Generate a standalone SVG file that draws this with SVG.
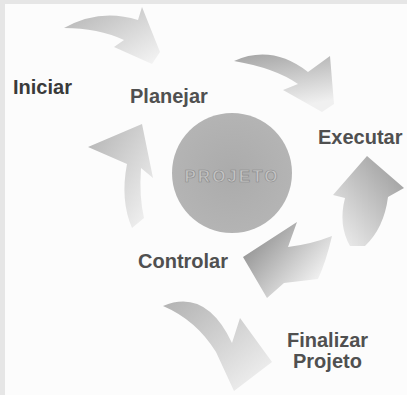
<svg xmlns="http://www.w3.org/2000/svg" width="407" height="395" viewBox="0 0 407 395">
<style>
.lbl{font-family:"Liberation Sans",Arial,sans-serif;font-weight:bold;font-size:20px;fill:#505050}
.arr{stroke:none}
</style>
<defs>
<linearGradient id="g1" x1="0" y1="0" x2="1" y2="1"><stop offset="0" stop-color="#b2b2b2"/><stop offset="1" stop-color="#f6f6f6"/></linearGradient>
<linearGradient id="g2" x1="0" y1="0" x2="0.3" y2="1"><stop offset="0" stop-color="#a4a4a4"/><stop offset="1" stop-color="#f0f0f0"/></linearGradient>
<linearGradient id="g3" x1="1" y1="0" x2="0" y2="1"><stop offset="0" stop-color="#969696"/><stop offset="1" stop-color="#f2f2f2"/></linearGradient>
<linearGradient id="g4" x1="0.2" y1="0" x2="1" y2="0.6"><stop offset="0" stop-color="#8e8e8e"/><stop offset="1" stop-color="#f4f4f4"/></linearGradient>
<radialGradient id="gc" cx="0.5" cy="0.5" r="0.5"><stop offset="0" stop-color="#ababab"/><stop offset="1" stop-color="#b4b4b4"/></radialGradient>
</defs>
<rect x="0" y="0" width="407" height="395" fill="#fcfcfc"/>
<path d="M0,0 H407 V4 H5 V395 H0 Z" fill="#e6e6e6"/>
<g id="connectors">
<path id="a-iniciar-planejar" class="arr" fill="url(#g1)" d="M64,28 Q100,8 138,20 L142,7 L160,52 L152,64 L114,47 L124,40 Q98,28 64,28 Z"/>
<path id="a-planejar-executar" class="arr" fill="url(#g2)" d="M234,61 Q272,44 308,72 L330,56 L334,104 L322,112 L283,90 L298,84 Q275,68 234,61 Z"/>
<path id="a-executar-up" class="arr" fill="url(#g3)" d="M350,246 Q338,225 345,198 L333,195 L367,156 L404,188 L388,197 Q384,228 365,246 Z"/>
<path id="a-executar-controlar" class="arr" fill="url(#g4)" d="M243,257 L297,222 L288,247 Q312,244 332,236 Q326,262 318,279 L284,283 L267,298 Z"/>
<path id="a-controlar-planejar" class="arr" fill="url(#g1)" d="M88,147 L142,124 L153,178 L141,168 Q139,196 144,218 L132,228 Q120,200 127,164 Z"/>
<path id="a-controlar-finalizar" class="arr" fill="url(#g1)" d="M163,306 Q206,288 232,343 L240,318 L272,362 L234,391 L216,352 Q196,320 163,306 Z"/>
</g>
<g id="projeto">
<circle cx="232" cy="173" r="60" fill="url(#gc)"/>
<text x="232" y="182" text-anchor="middle" font-family="Liberation Sans,Arial,sans-serif" font-weight="bold" font-size="17" letter-spacing="2" fill="#c4c4c4" stroke="#8a8a8a" stroke-width="0.6">PROJETO</text>
</g>
<g id="iniciar"><text class="lbl" x="13" y="94" style="fill:#3a3a3a">Iniciar</text></g>
<g id="planejar"><text class="lbl" x="130" y="103">Planejar</text></g>
<g id="executar"><text class="lbl" x="318" y="144">Executar</text></g>
<g id="controlar"><text class="lbl" x="138" y="268">Controlar</text></g>
<g id="finalizar"><text class="lbl" x="287" y="347">Finalizar</text><text class="lbl" x="293" y="368">Projeto</text></g>
</svg>
